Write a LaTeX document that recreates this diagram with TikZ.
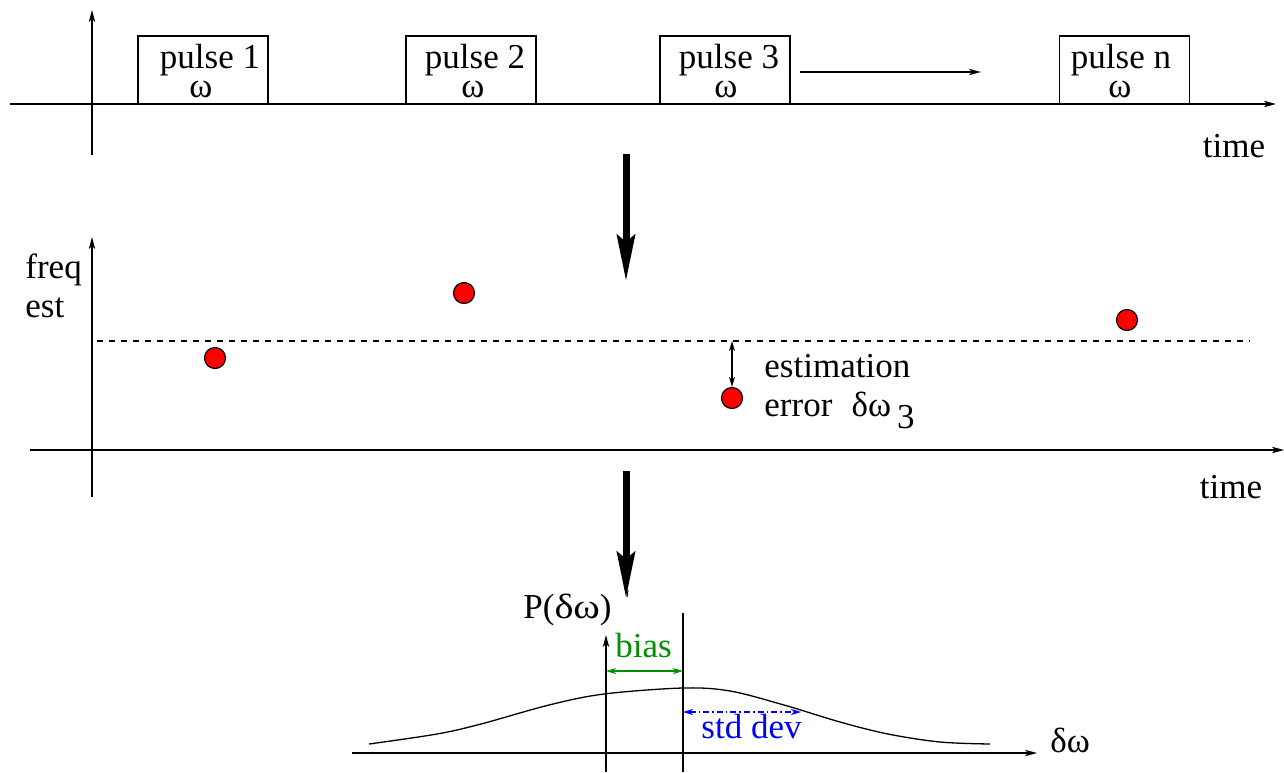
\documentclass[tikz,border=0pt]{standalone}
\usepackage{fontspec}
\setmainfont{Liberation Serif}
\usetikzlibrary{arrows.meta}
\definecolor{xgreen}{RGB}{0,144,0}
\definecolor{xblue}{RGB}{0,0,255}
\begin{document}
\begin{tikzpicture}[x=0.5pt,y=-0.5pt,
  ln/.style={line width=0.65pt},
  ax/.style={ln,-{Stealth[length=6pt,width=3.2pt,inset=1.6pt]}},
  dax/.style={ln,{Stealth[length=5pt,width=3pt,inset=1.4pt]}-{Stealth[length=5pt,width=3pt,inset=1.4pt]}},
  big/.style={line width=3.5pt,-{Stealth[length=23pt,width=9pt,inset=3.5pt]}},
  lbl/.style={inner sep=0pt,font=\rmfamily\fontsize{17.5}{20}\selectfont},
  ptxt/.style={lbl,anchor=base,text height=11.5pt,text depth=3.6pt},
  wtxt/.style={lbl,anchor=base,text height=8pt,text depth=0.3pt},
  pbox/.style={draw,ln,rectangle,minimum width=65pt,minimum height=34pt,inner sep=0pt},
  dot/.style={circle,draw,fill=red,line width=0.6pt,minimum size=10.5pt,inner sep=0pt}]
\useasboundingbox (0,0) rectangle (1284,772);

% ---------- top panel ----------
\coordinate (t0) at (10,104);
\coordinate (t1) at (1276,104);
\coordinate (v0) at (92,155);
\coordinate (v1) at (92,10);
\draw[ax] (t0) -- (t1);
\draw[ax] (v0) -- (v1);

\node[pbox] (b1) at (203,70) {};
\node[pbox] (b2) at (471,70) {};
\node[pbox] (b3) at (725,70) {};
\node[pbox] (bn) at (1124.5,70) {};

\node[ptxt] (p1) at (210,68) {pulse 1};
\node[wtxt] (w1) at (201,97) {ω};
\node[ptxt] (p2) at (475,68) {pulse 2};
\node[wtxt] (w2) at (473,97) {ω};
\node[ptxt] (p3) at (729,68) {pulse 3};
\node[wtxt] (w3) at (726,97) {ω};
\node[ptxt] (pn) at (1121,68) {pulse n};
\node[wtxt] (wn) at (1120,97) {ω};

\coordinate (c0) at (800,72);
\coordinate (c1) at (981,72);
\draw[ax] (c0) -- (c1);

\node[lbl,anchor=base] (time1) at (1234,157) {time};

% big arrows
\coordinate (a0) at (626,154);
\coordinate (a1) at (626,281);
\draw[big] (a0) -- (a1);
\coordinate (a2) at (626,471);
\coordinate (a3) at (626,598);
\draw[big] (a2) -- (a3);

% ---------- middle panel ----------
\coordinate (m0) at (30,450);
\coordinate (m1) at (1284,450);
\coordinate (mv0) at (92,497);
\coordinate (mv1) at (92,237);
\draw[ax] (m0) -- (m1);
\draw[ax] (mv0) -- (mv1);

\node[lbl,anchor=base west] (freq) at (25,278) {freq};
\node[lbl,anchor=base west] (est) at (25,317) {est};

\coordinate (d0) at (97,341);
\coordinate (d1) at (1250,341);
\draw[ln,dash pattern=on 3pt off 3pt] (d0) -- (d1);

\node[dot] (e1) at (215,358) {};
\node[dot] (e2) at (464,293) {};
\node[dot] (e3) at (732,398) {};
\node[dot] (e4) at (1127,320) {};

\coordinate (dd) at (732,341);
\draw[dax] (dd) -- (e3.north);

\node[lbl,anchor=base west] (estim) at (764,377) {estimation};
\node[lbl,anchor=base west] (err) at (764,416) {error\hspace{0.55em}δω\raisebox{-6pt}{\hspace{3pt}3}};

\node[lbl,anchor=base] (time2) at (1231,498) {time};

% ---------- bottom panel ----------
\coordinate (h0) at (352,753);
\coordinate (h1) at (1037,753);
\draw[ax] (h0) -- (h1);
\coordinate (pv0) at (606,772);
\coordinate (pv1) at (606,635);
\draw[ax] (pv0) -- (pv1);
\coordinate (q0) at (683,772);
\coordinate (q1) at (683,613);
\draw[ln] (q0) -- (q1);
\coordinate (k0) at (628,590);
\coordinate (k1) at (627,597);
\draw[line width=0.5pt] (k0) -- (k1);

\node[lbl,anchor=base west] (pdw) at (523,618) {P(\scalebox{1.15}[1]{δω})};
\node[lbl,anchor=base west] (dw) at (1050,752) {δω};

\draw[ln] plot[smooth,tension=0.55] coordinates {(369,744) (437,734) (481,724) (549,705) (604,694) (683,688) (730,691) (784,705) (840,722) (888,734) (940,742) (990,744)};

\coordinate (g0) at (606,671);
\coordinate (g1) at (683,671);
\draw[dax,xgreen] (g0) -- (g1);
\node[lbl,anchor=base west,text=xgreen] (bias) at (615,657) {bias};

\coordinate (s0) at (683,712);
\coordinate (s1) at (801,712);
\draw[dax,xblue,dash pattern=on 3pt off 1.5pt on 0.8pt off 1.5pt] (s0) -- (s1);
\node[lbl,anchor=base west,text=xblue] (std) at (701,738) {std dev};
\end{tikzpicture}
\end{document}
